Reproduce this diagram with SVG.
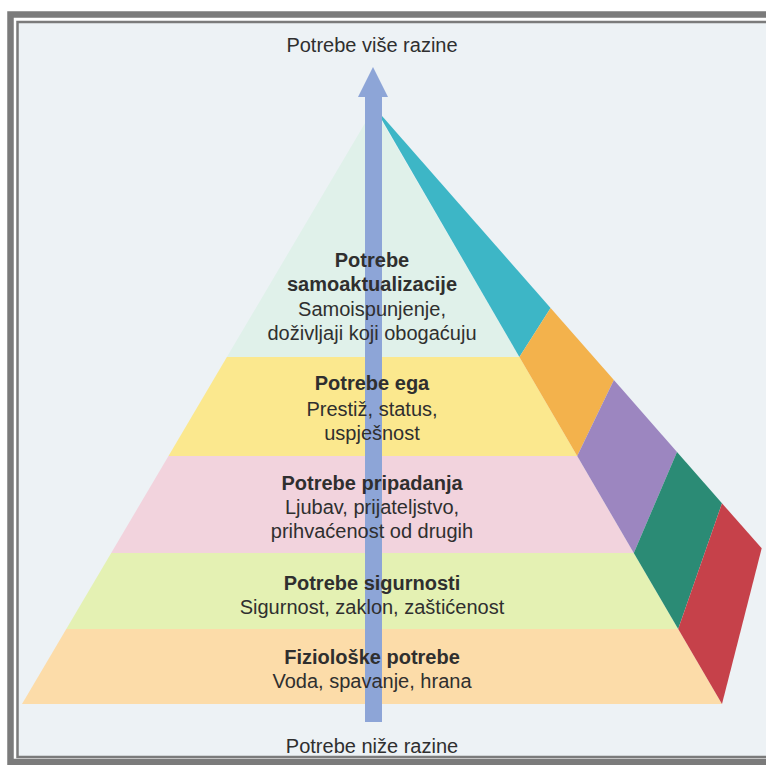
<svg xmlns="http://www.w3.org/2000/svg" width="766" height="765" viewBox="0 0 766 765">
<style>
.t{font-family:"Liberation Sans",Arial,sans-serif;font-size:20px;fill:#2f2f2f;text-anchor:middle}
.b{font-weight:bold}
.frame{fill:none;stroke:#7b7b7b}
</style>
<rect x="0" y="0" width="766" height="765" fill="#ffffff"/>
<rect x="18" y="22" width="748" height="735" fill="#edf2f5"/>
<path class="frame" d="M766 14.5H10.5V762H766" stroke-width="6.5"/>
<path class="frame" d="M766 22H17.5V757H766" stroke-width="2.5"/>

<g id="level-5-selfactualization">
<polygon points="374,108 519.4,357 226.9,357" fill="#e0f1ea"/>
<polygon points="375,108 550.6,308 519.4,357" fill="#3db6c6"/>
</g>
<g id="level-4-ego">
<polygon points="226.9,357 519.4,357 577.2,456 168.5,456" fill="#fbe88e"/>
<polygon points="550.6,308 613.9,380 577.2,456 519.4,357" fill="#f3b24c"/>
</g>
<g id="level-3-belonging">
<polygon points="168.5,456 577.2,456 633.8,553 111.2,553" fill="#f2d3dd"/>
<polygon points="613.9,380 677,452 633.8,553 577.2,456" fill="#9c86c0"/>
</g>
<g id="level-2-safety">
<polygon points="111.2,553 633.8,553 678.2,629 66.3,629" fill="#e4f1b3"/>
<polygon points="677,452 722,503.3 678.2,629 633.8,553" fill="#2b8b75"/>
</g>
<g id="level-1-physiological">
<polygon points="66.3,629 678.2,629 722,704 22,704" fill="#fcdca9"/>
<polygon points="722,503.3 761.7,548.3 722,704 678.2,629" fill="#c6414a"/>
</g>

<g id="connectors">
<rect x="365" y="95" width="17" height="627" fill="#8da5d7"/>
<polygon points="373,67 388,97 358,97" fill="#8da5d7"/>
</g>

<g id="label-top">
<text class="t" x="372" y="52">Potrebe više razine</text>
</g>
<g id="label-level-5">
<text class="t b" x="372" y="267">Potrebe</text>
<text class="t b" x="372" y="291">samoaktualizacije</text>
<text class="t" x="372" y="316">Samoispunjenje,</text>
<text class="t" x="372" y="340">doživljaji koji obogaćuju</text>
</g>
<g id="label-level-4">
<text class="t b" x="372" y="390">Potrebe ega</text>
<text class="t" x="372" y="416">Prestiž, status,</text>
<text class="t" x="372" y="440">uspješnost</text>
</g>
<g id="label-level-3">
<text class="t b" x="372" y="490">Potrebe pripadanja</text>
<text class="t" x="372" y="514">Ljubav, prijateljstvo,</text>
<text class="t" x="372" y="538">prihvaćenost od drugih</text>
</g>
<g id="label-level-2">
<text class="t b" x="372" y="590">Potrebe sigurnosti</text>
<text class="t" x="372" y="614">Sigurnost, zaklon, zaštićenost</text>
</g>
<g id="label-level-1">
<text class="t b" x="372" y="664">Fiziološke potrebe</text>
<text class="t" x="372" y="688">Voda, spavanje, hrana</text>
</g>
<g id="label-bottom">
<text class="t" x="372" y="753">Potrebe niže razine</text>
</g>
</svg>
